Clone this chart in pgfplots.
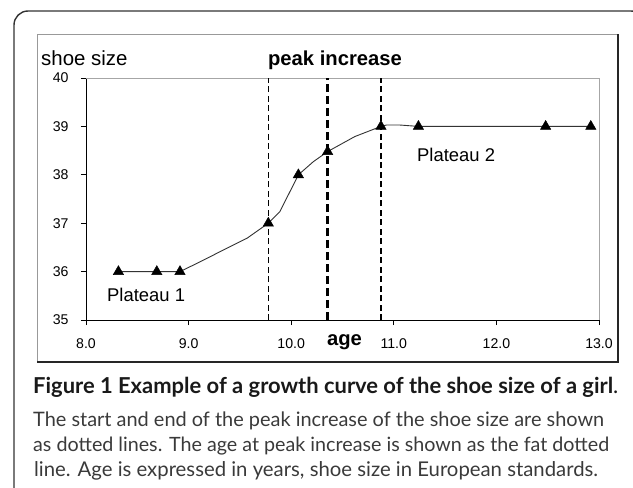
\documentclass[border=0pt]{standalone}
\usepackage{fontspec}
\setmainfont{Liberation Sans}
\newfontfamily\capfont{Lato}
\usepackage{graphicx}
\usepackage{pgfplots}
\pgfplotsset{compat=1.18}
\definecolor{capgray}{HTML}{3A3A3A}
\newcommand\tl[1]{\scalebox{1.18}{#1}}
\begin{document}
\begin{tikzpicture}
\useasboundingbox (0,0) rectangle (633bp,-488bp);
\begin{scope}
\clip (0,0) rectangle (633bp,-488bp);
\draw[line width=1.4bp, black!80, rounded corners=14bp] (14bp,-560bp) -- (14bp,-11bp) -- (645bp,-11bp) -- (645bp,-560bp);
\end{scope}
% chart area border
\draw[black!40, line width=0.8bp] (37bp,-362bp) -- (37bp,-34bp) -- (618bp,-34bp);
\draw[black!85, line width=1.8bp] (618bp,-34bp) -- (618bp,-362bp) -- (37bp,-362bp);
\begin{axis}[
  at={(86bp,-320bp)}, anchor=south west,
  scale only axis, width=513bp, height=242bp,
  xmin=8, xmax=13, ymin=35, ymax=40,
  axis lines*=left,
  axis line style={black, line width=0.9bp},
  xtick={8,9,10,11,12,13},
  xticklabels={\tl{8.0},\tl{9.0},\tl{10.0},\tl{11.0},\tl{12.0},\tl{13.0}},
  ytick={35,36,37,38,39,40},
  yticklabels={\tl{35},\tl{36},\tl{37},\tl{38},\tl{39},\tl{40}},
  tick align=outside,
  major tick length=5bp,
  tick style={black, line width=0.9bp},
  every tick label/.append style={font=\fontsize{12}{13}\selectfont},
  xticklabel style={yshift=-10bp},
  yticklabel style={xshift=-9bp},
  clip=false,
]
\draw[black!35, line width=0.8bp] (axis cs:8,40) -- (axis cs:13,40) -- (axis cs:13,35);
% dashed lines
\addplot[black, line width=1.2bp, dash pattern=on 6bp off 3.5bp] coordinates {(9.78,35) (9.78,40)};
\addplot[black, line width=1.2bp, dash pattern=on 6bp off 3.5bp] coordinates {(10.875,35) (10.875,40)};
\addplot[black, line width=2.4bp, dash pattern=on 8bp off 4bp] coordinates {(10.355,35) (10.355,40)};
% growth curve
\addplot[black!80, line width=0.9bp, mark=none] coordinates {
 (8.316,36) (8.69,36) (8.916,36) (9.11,36.2) (9.37,36.48) (9.57,36.69)
 (9.777,37) (9.89,37.24) (10.07,38) (10.215,38.27) (10.355,38.48)
 (10.62,38.79) (10.875,39) (10.93,39.03) (11.05,39.03) (11.24,39)
 (12.48,39) (12.92,39)};
% measurements
\addplot[only marks, mark=triangle*, mark size=6bp, black] coordinates {
 (8.316,36) (8.69,36) (8.916,36) (9.777,37) (10.07,38) (10.355,38.48)
 (10.875,39) (11.24,39) (12.48,39) (12.92,39)};
\end{axis}
% chart texts
\node[anchor=base west, inner sep=0pt, font=\fontsize{20.5}{21}\selectfont] at (41bp,-65bp) {shoe size};
\node[anchor=base, inner sep=0pt, font=\bfseries\fontsize{20.3}{21}\selectfont] at (335bp,-65bp) {peak increase};
\node[anchor=base, inner sep=0pt, font=\bfseries\fontsize{20.3}{21}\selectfont] at (344.5bp,-345bp) {age};
\node[anchor=base west, inner sep=0pt, font=\fontsize{18.5}{19}\selectfont] at (107bp,-301bp) {Plateau 1};
\node[anchor=base west, inner sep=0pt, font=\fontsize{18.5}{19}\selectfont] at (417bp,-161bp) {Plateau 2};
% caption
\node[anchor=base west, inner sep=0pt, font=\capfont\fontsize{17.28}{18}\selectfont, text=black!90] at (33bp,-393bp) {\resizebox{585bp}{!}{\bfseries Figure 1 Example of a growth curve of the shoe size of a girl\mdseries.}};
\node[anchor=base west, inner sep=0pt, font=\capfont\fontsize{17.28}{18}\selectfont, text=capgray] at (33bp,-426bp) {\resizebox{571bp}{!}{The start and end of the peak increase of the shoe size are shown}};
\node[anchor=base west, inner sep=0pt, font=\capfont\fontsize{17.28}{18}\selectfont, text=capgray] at (33bp,-451bp) {\resizebox{576bp}{!}{as dotted lines. The age at peak increase is shown as the fat dotted}};
\node[anchor=base west, inner sep=0pt, font=\capfont\fontsize{17.28}{18}\selectfont, text=capgray] at (34bp,-476bp) {\resizebox{564bp}{!}{line. Age is expressed in years, shoe size in European standards.}};
\end{tikzpicture}
\end{document}
